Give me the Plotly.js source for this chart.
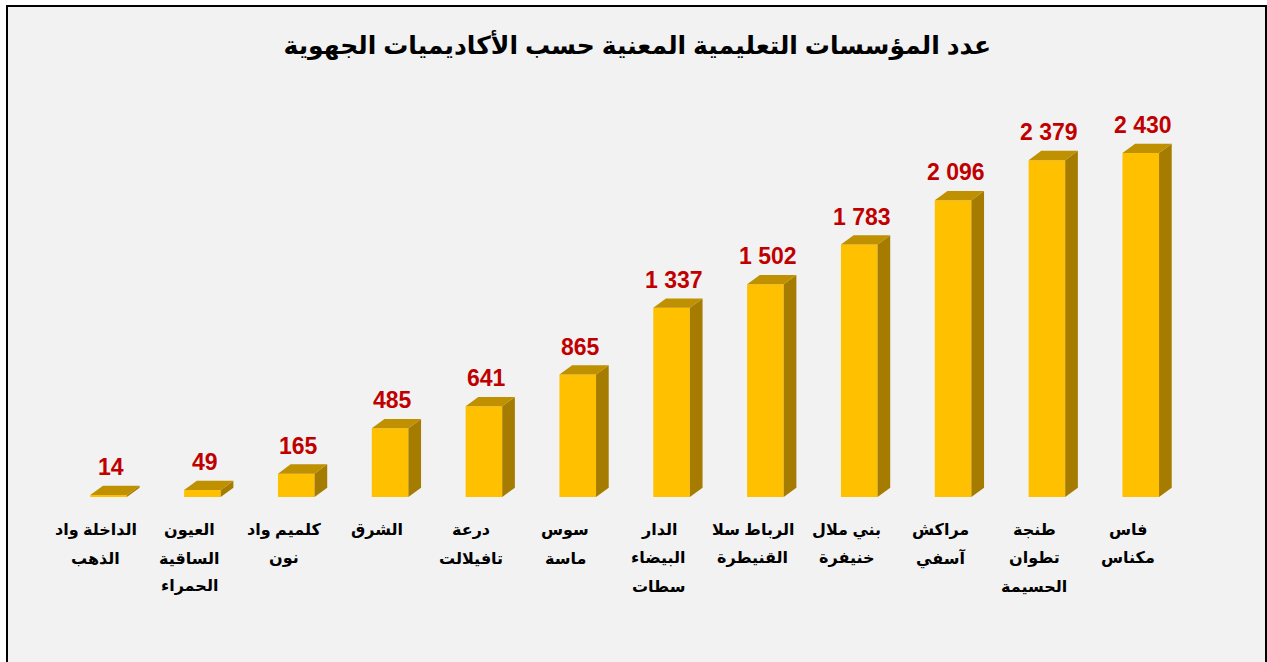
<!DOCTYPE html>
<html>
<head>
<meta charset="utf-8">
<script src="https://cdn.plot.ly/plotly-3.0.1.min.js"></script>
<style>
  html, body { margin: 0; padding: 0; background: #ffffff; }
  #frame { position: absolute; left: 6px; top: 5px; width: 1257px; height: 660px;
           border-left: 2px solid #000; border-top: 2px solid #000; border-right: 2px solid #000;
           background: #f2f2f2; }
  #chart { position: absolute; left: 0; top: 0; width: 1267px; height: 662px; }
</style>
</head>
<body>
<div id="frame"></div>
<div id="chart"></div>
<script>
// ---- data ----
const titleText = "عدد المؤسسات التعليمية المعنية حسب الأكاديميات الجهوية";
const categories = [
  "الداخلة واد<br>الذهب",
  "العيون<br>الساقية<br>الحمراء",
  "كلميم واد<br>نون",
  "الشرق",
  "درعة<br>تافيلالت",
  "سوس<br>ماسة",
  "الدار<br>البيضاء<br>سطات",
  "الرباط سلا<br>القنيطرة",
  "بني ملال<br>خنيفرة",
  "مراكش<br>آسفي",
  "طنجة<br>تطوان<br>الحسيمة",
  "فاس<br>مكناس"
];
const values = [14, 49, 165, 485, 641, 865, 1337, 1502, 1783, 2096, 2379, 2430];
const valueLabels = ["14", "49", "165", "485", "641", "865", "1 337", "1 502", "1 783", "2 096", "2 379", "2 430"];

// ---- geometry (in axis units) ----
const idx = categories.map((_, i) => i);
const barOffset = 0.135;   // front face centre relative to category tick
const barWidth = 0.39;
const depthX = 0.135;      // 3D depth, x units
const depthY = 66;         // 3D depth, y units

const frontTrace = {
  type: 'bar', x: idx.map(i => i + barOffset), y: values, width: barWidth,
  marker: { color: '#FFC000', line: { width: 0 } }, hoverinfo: 'skip', showlegend: false
};
const sideX = [], sideY = [], topX = [], topY = [];
values.forEach((v, i) => {
  const x0 = i + barOffset - barWidth / 2, x1 = i + barOffset + barWidth / 2;
  sideX.push(x1, x1 + depthX, x1 + depthX, x1, x1, null);
  sideY.push(0, depthY, v + depthY, v, 0, null);
  topX.push(x0, x1, x1 + depthX, x0 + depthX, x0, null);
  topY.push(v, v, v + depthY, v + depthY, v, null);
});
const sideTrace = { type: 'scatter', mode: 'lines', x: sideX, y: sideY, fill: 'toself',
  fillcolor: '#A67C00', line: { width: 0, color: '#A67C00' }, hoverinfo: 'skip', showlegend: false };
const topTrace = { type: 'scatter', mode: 'lines', x: topX, y: topY, fill: 'toself',
  fillcolor: '#BF9000', line: { width: 0, color: '#BF9000' }, hoverinfo: 'skip', showlegend: false };

const annotations = [];
values.forEach((v, i) => {
  annotations.push({
    x: i + barOffset + depthX * 0.2, y: v, xref: 'x', yref: 'y',
    text: '<b>' + valueLabels[i] + '</b>', showarrow: false,
    yanchor: 'bottom', yshift: 13,
    font: { family: 'Liberation Sans, Arial, sans-serif', size: 23, color: '#C00000' }
  });
  categories[i].split('<br>').forEach((line, k) => {
    annotations.push({
      x: i, y: 0, xref: 'x', yref: 'y',
      text: '<b>' + line + '</b>', showarrow: false,
      yanchor: 'middle', yshift: -33 - 28 * k,
      font: { family: 'Arial, Liberation Sans, DejaVu Sans, sans-serif', size: 16, color: '#000000' }
    });
  });
});

const layout = {
  width: 1267, height: 662,
  margin: { l: 49, r: 92, t: 90, b: 165 },
  paper_bgcolor: 'rgba(0,0,0,0)', plot_bgcolor: 'rgba(0,0,0,0)',
  title: { text: '<b>' + titleText + '</b>', xref: 'container', x: 0.503, y: 0.932, yanchor: 'middle',
           font: { family: 'Arial, Liberation Sans, DejaVu Sans, sans-serif', size: 25, color: '#000000' } },
  xaxis: { range: [-0.5, 11.5], showgrid: false, zeroline: false, showline: false,
           showticklabels: false, ticks: '', fixedrange: true },
  yaxis: { range: [0, 2875], showgrid: false, zeroline: false, showline: false,
           showticklabels: false, ticks: '', fixedrange: true },
  annotations: annotations,
  barmode: 'overlay',
  showlegend: false
};

Plotly.newPlot('chart', [sideTrace, topTrace, frontTrace], layout, { displayModeBar: false, staticPlot: true });
</script>
</body>
</html>
